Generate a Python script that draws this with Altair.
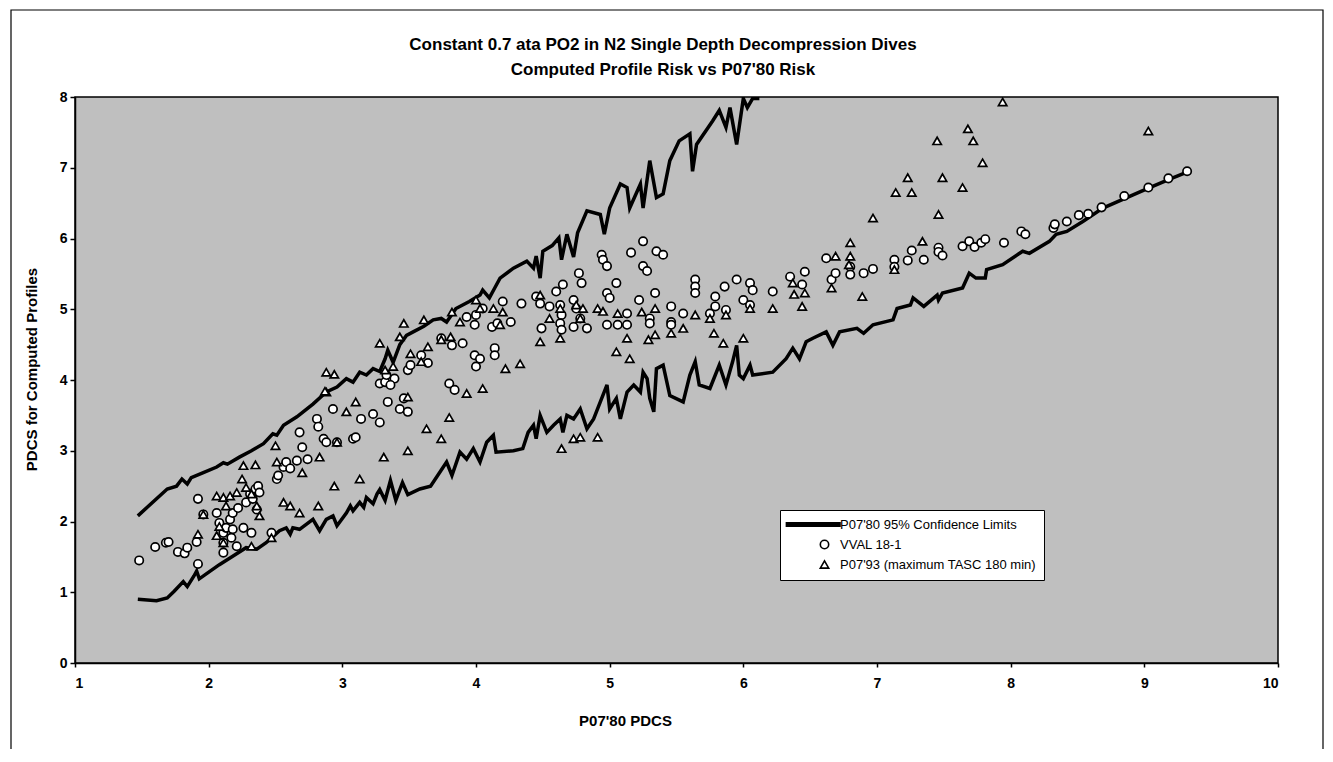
import altair as alt
import pandas as pd

TITLE_LINES = ["Constant 0.7 ata PO2 in N2 Single Depth Decompression Dives",
               "Computed Profile Risk vs P07'80 Risk"]
LINE_LABEL = "P07'80 95% Confidence Limits"
VVAL_LABEL = "VVAL 18-1"
P93_LABEL = "P07'93 (maximum TASC 180 min)"

x_ticks = [1, 2, 3, 4, 5, 6, 7, 8, 9, 10]
y_ticks = [0, 1, 2, 3, 4, 5, 6, 7, 8]

upper_x = [1.47, 1.69, 1.76, 1.80, 1.84, 1.87, 1.96, 2.06, 2.11, 2.14, 2.23, 2.32, 2.41, 2.48, 2.51,
           2.56, 2.66, 2.78, 2.88, 2.96, 3.03, 3.08, 3.13, 3.18, 3.23, 3.28, 3.32, 3.34, 3.38, 3.43,
           3.48, 3.53, 3.61, 3.68, 3.74, 3.78, 3.85, 3.95, 4.03, 4.05, 4.10, 4.14, 4.18, 4.28, 4.38,
           4.43, 4.45, 4.48, 4.50, 4.57, 4.62, 4.64, 4.68, 4.73, 4.76, 4.83, 4.93, 4.96, 5.00, 5.08,
           5.13, 5.15, 5.23, 5.25, 5.30, 5.35, 5.40, 5.45, 5.52, 5.60, 5.62, 5.65, 5.77, 5.82, 5.87,
           5.90, 5.95, 6.00, 6.03, 6.07, 6.12]
upper_y = [2.08, 2.46, 2.50, 2.60, 2.53, 2.62, 2.69, 2.77, 2.83, 2.81, 2.91, 3.00, 3.10, 3.24, 3.22,
           3.36, 3.48, 3.66, 3.83, 3.90, 4.02, 3.97, 4.11, 4.07, 4.16, 4.12, 4.30, 4.42, 4.25, 4.50,
           4.63, 4.68, 4.76, 4.85, 4.87, 4.82, 5.01, 5.11, 5.20, 5.27, 5.16, 5.30, 5.44, 5.58, 5.68,
           5.58, 5.75, 5.44, 5.82, 5.90, 6.01, 5.70, 6.06, 5.74, 6.08, 6.39, 6.34, 6.06, 6.43, 6.77,
           6.72, 6.43, 6.77, 6.43, 7.10, 6.58, 6.63, 7.10, 7.38, 7.48, 6.95, 7.33, 7.66, 7.81, 7.57,
           7.85, 7.33, 7.98, 7.85, 7.98, 7.98]

lower_x = [1.47, 1.61, 1.69, 1.74, 1.81, 1.84, 1.89, 1.91, 1.93, 1.99, 2.08, 2.18, 2.28, 2.36, 2.43,
           2.53, 2.58, 2.61, 2.63, 2.68, 2.73, 2.78, 2.83, 2.88, 2.93, 2.96, 3.03, 3.06, 3.08, 3.13,
           3.16, 3.18, 3.23, 3.26, 3.28, 3.32, 3.36, 3.40, 3.45, 3.49, 3.58, 3.66, 3.78, 3.82, 3.88,
           3.93, 3.98, 4.03, 4.08, 4.13, 4.15, 4.28, 4.35, 4.39, 4.43, 4.45, 4.48, 4.53, 4.58, 4.63,
           4.65, 4.68, 4.73, 4.78, 4.83, 4.88, 4.93, 4.98, 5.00, 5.05, 5.08, 5.13, 5.18, 5.23, 5.25,
           5.28, 5.30, 5.33, 5.35, 5.40, 5.45, 5.55, 5.60, 5.64, 5.67, 5.75, 5.82, 5.87, 5.92, 5.95,
           5.97, 6.00, 6.05, 6.07, 6.22, 6.32, 6.37, 6.42, 6.47, 6.52, 6.62, 6.67, 6.72, 6.85, 6.90,
           6.97, 7.12, 7.15, 7.25, 7.27, 7.35, 7.45, 7.46, 7.49, 7.64, 7.69, 7.74, 7.81, 7.82, 7.94,
           8.09, 8.14, 8.29, 8.34, 8.42, 8.54, 8.69, 8.92, 9.04, 9.19, 9.31]
lower_y = [0.90, 0.88, 0.92, 1.01, 1.15, 1.08, 1.23, 1.30, 1.19, 1.27, 1.39, 1.51, 1.63, 1.61, 1.70,
           1.87, 1.91, 1.82, 1.91, 1.89, 1.96, 2.03, 1.87, 2.03, 2.08, 1.94, 2.12, 2.22, 2.15, 2.27,
           2.20, 2.34, 2.25, 2.39, 2.45, 2.30, 2.58, 2.30, 2.55, 2.38, 2.46, 2.50, 2.84, 2.65, 2.98,
           2.88, 3.03, 2.84, 3.12, 3.22, 2.98, 3.00, 3.03, 3.26, 3.36, 3.17, 3.50, 3.26, 3.36, 3.45,
           3.26, 3.50, 3.45, 3.59, 3.31, 3.45, 3.69, 3.93, 3.59, 3.74, 3.45, 3.83, 3.93, 3.83, 4.11,
           4.02, 3.74, 3.55, 4.16, 4.21, 3.78, 3.69, 4.07, 4.26, 3.93, 3.88, 4.21, 3.93, 4.26, 4.49,
           4.07, 4.02, 4.21, 4.07, 4.11, 4.30, 4.45, 4.30, 4.54, 4.59, 4.68, 4.49, 4.68, 4.73, 4.66,
           4.78, 4.85, 5.01, 5.06, 5.16, 5.04, 5.20, 5.13, 5.23, 5.30, 5.51, 5.44, 5.44, 5.56, 5.63,
           5.82, 5.79, 5.96, 6.06, 6.10, 6.24, 6.43, 6.62, 6.72, 6.84, 6.93]

vval_x = [1.48, 1.60, 1.68, 1.70, 1.77, 1.82, 1.84, 1.91, 1.92, 1.92, 1.96, 2.06, 2.08, 2.11, 2.13,
          2.16, 2.18, 2.22, 2.28, 2.31, 2.35, 2.37, 2.38, 2.33, 2.36, 2.32, 2.26, 2.18, 2.17, 2.21,
          2.11, 2.11, 2.47, 2.51, 2.52, 2.56, 2.58, 2.61, 2.66, 2.68, 2.70, 2.74, 2.81, 2.82, 2.86,
          2.88, 2.96, 2.93, 3.08, 3.10, 3.14, 3.23, 3.28, 3.34, 3.43, 3.49, 3.46, 3.28, 3.32, 3.39,
          3.36, 3.33, 3.49, 3.51, 3.59, 3.64, 3.74, 3.82, 3.90, 3.80, 3.84, 3.93, 3.99, 3.99, 4.00,
          4.03, 4.14, 4.14, 4.00, 4.05, 4.12, 4.16, 4.20, 4.26, 4.34, 4.45, 4.48, 4.55, 4.63, 4.64,
          4.73, 4.75, 4.78, 4.83, 4.73, 4.63, 4.49, 4.64, 4.77, 4.79, 4.65, 4.60, 4.94, 4.95, 4.98,
          4.98, 5.00, 5.05, 5.16, 5.25, 5.35, 5.40, 5.25, 5.28, 5.22, 5.34, 5.46, 4.98, 5.06, 5.13,
          5.13, 5.30, 5.30, 5.46, 5.46, 5.55, 5.64, 5.64, 5.64, 5.75, 5.79, 5.79, 5.86, 5.87, 5.95,
          6.00, 6.05, 6.07, 6.05, 6.22, 6.35, 6.44, 6.46, 6.62, 6.66, 6.69, 6.80, 6.80, 6.90, 6.97,
          7.13, 7.13, 7.23, 7.26, 7.35, 7.46, 7.46, 7.49, 7.64, 7.69, 7.73, 7.78, 7.81, 7.95, 8.08,
          8.11, 8.32, 8.33, 8.42, 8.51, 8.58, 8.68, 8.85, 9.03, 9.18, 9.32]
vval_y = [1.45, 1.64, 1.70, 1.71, 1.57, 1.55, 1.63, 1.71, 2.32, 1.40, 2.10, 2.12, 1.98, 1.84, 1.91,
          2.03, 2.12, 2.19, 2.27, 2.39, 2.46, 2.50, 2.41, 2.32, 2.17, 1.84, 1.91, 1.89, 1.77, 1.65,
          1.56, 1.70, 1.84, 2.60, 2.65, 2.77, 2.84, 2.75, 2.86, 3.26, 3.05, 2.88, 3.45, 3.34, 3.17,
          3.12, 3.12, 3.59, 3.17, 3.19, 3.45, 3.52, 3.40, 3.69, 3.59, 3.55, 3.74, 3.95, 3.97, 4.02,
          3.93, 4.07, 4.14, 4.21, 4.35, 4.24, 4.59, 4.49, 4.52, 3.95, 3.86, 4.89, 4.78, 4.35, 4.19,
          4.30, 4.45, 4.35, 4.92, 5.01, 4.75, 4.80, 5.11, 4.82, 5.08, 5.18, 5.08, 5.04, 5.06, 4.92,
          5.13, 5.01, 4.87, 4.73, 4.75, 4.80, 4.73, 4.71, 5.51, 5.37, 5.35, 5.25, 5.77, 5.70, 5.61,
          5.23, 5.16, 5.37, 5.80, 5.96, 5.82, 5.77, 5.61, 5.54, 5.13, 5.23, 5.04, 4.78, 4.78, 4.94,
          4.78, 4.87, 4.80, 4.82, 4.78, 4.94, 5.42, 5.32, 5.23, 4.94, 5.04, 5.18, 5.32, 4.99, 5.42,
          5.13, 5.37, 5.27, 5.06, 5.25, 5.46, 5.35, 5.53, 5.72, 5.42, 5.51, 5.60, 5.49, 5.51, 5.57,
          5.70, 5.60, 5.69, 5.83, 5.70, 5.87, 5.81, 5.76, 5.89, 5.96, 5.88, 5.94, 5.99, 5.94, 6.10,
          6.06, 6.15, 6.20, 6.24, 6.33, 6.35, 6.44, 6.60, 6.72, 6.85, 6.95]

p93_x = [1.96, 1.92, 2.06, 2.11, 2.13, 2.16, 2.21, 2.25, 2.26, 2.35, 2.28, 2.32, 2.36, 2.38, 2.06,
         2.08, 2.11, 2.32, 2.47, 2.50, 2.51, 2.56, 2.61, 2.68, 2.70, 2.82, 2.83, 2.88, 2.96, 3.03,
         3.10, 3.13, 2.94, 3.31, 3.49, 3.49, 3.63, 2.88, 2.94, 2.87, 3.28, 3.46, 3.43, 3.61, 3.64,
         3.82, 4.00, 3.81, 3.93, 3.51, 3.59, 3.74, 3.88, 4.03, 4.13, 4.20, 4.18, 4.22, 4.33, 4.05,
         3.80, 3.74, 3.32, 3.38, 4.48, 4.48, 4.55, 4.63, 4.63, 4.75, 4.78, 4.80, 4.91, 4.95, 5.05,
         5.06, 5.13, 5.15, 5.24, 5.29, 5.34, 5.34, 5.46, 5.55, 5.64, 5.75, 5.78, 5.85, 5.87, 6.00,
         6.05, 6.22, 6.37, 6.44, 6.46, 6.38, 6.66, 6.69, 6.80, 6.80, 6.79, 6.89, 4.64, 4.73, 4.78,
         4.91, 6.97, 7.13, 7.34, 7.46, 7.14, 7.26, 7.64, 7.23, 7.49, 7.79, 7.45, 7.72, 7.68, 7.94,
         9.03]
p93_y = [2.10, 1.82, 2.36, 2.34, 2.22, 2.36, 2.41, 2.60, 2.79, 2.80, 2.48, 2.39, 2.22, 2.08, 1.80,
         1.93, 1.70, 1.65, 1.77, 3.07, 2.84, 2.27, 2.22, 2.12, 2.69, 2.22, 2.91, 3.83, 3.12, 3.55,
         3.69, 2.60, 2.50, 2.91, 3.00, 3.76, 3.31, 4.11, 4.08, 3.84, 4.52, 4.80, 4.61, 4.85, 4.47,
         4.96, 5.13, 4.61, 3.81, 4.37, 4.26, 4.57, 4.82, 5.01, 5.01, 4.96, 4.78, 4.16, 4.23, 3.88,
         3.47, 3.17, 4.14, 4.19, 5.20, 4.54, 4.87, 5.01, 4.59, 5.06, 4.87, 5.01, 5.01, 4.97, 4.40,
         4.94, 4.59, 4.30, 4.96, 4.57, 5.01, 4.64, 4.66, 4.73, 4.92, 4.87, 4.66, 4.52, 4.92, 4.59,
         5.01, 5.01, 5.37, 5.04, 5.23, 5.21, 5.30, 5.75, 5.94, 5.75, 5.63, 5.18, 3.03, 3.17, 3.19,
         3.19, 6.29, 5.56, 5.96, 6.34, 6.65, 6.65, 6.72, 6.86, 6.86, 7.07, 7.38, 7.38, 7.55, 7.93,
         7.52]

# tables for the library
lines = pd.DataFrame({
    "x": upper_x + lower_x,
    "y": upper_y + lower_y,
    "limit": ["upper"] * len(upper_x) + ["lower"] * len(lower_x),
    "order": list(range(len(upper_x))) + list(range(len(lower_x))),
})
points = pd.DataFrame({
    "x": vval_x + p93_x,
    "y": vval_y + p93_y,
    "series": [VVAL_LABEL] * len(vval_x) + [P93_LABEL] * len(p93_x),
})

FONT = "Liberation Sans"
W, H = 1203, 566
PAD_L, PAD_T, PAD_R, PAD_B = 67, 89, 47, 86

xscale = alt.Scale(domain=[1, 10], nice=False, zero=False)
yscale = alt.Scale(domain=[0, 8], nice=False, zero=False)

x_enc = alt.X("x:Q", scale=xscale,
              axis=alt.Axis(values=x_ticks, title="P07'80 PDCS", grid=False,
                            titleX=550, titleY=57, titleBaseline="middle",
                            labelPadding=9, tickSize=4))
y_enc = alt.Y("y:Q", scale=yscale,
              axis=alt.Axis(values=y_ticks, title="PDCS for Computed Profiles", grid=False,
                            titleX=-44, titleY=272, titleBaseline="middle",
                            labelPadding=3, tickSize=5))

LEGEND_LINE = "M-9.1,-0.43L3.7,-0.43L3.7,0.43L-9.1,0.43Z"
leg_domain = [LINE_LABEL, VVAL_LABEL, P93_LABEL]
legend = alt.Legend(title=None, orient="none", legendX=705, legendY=413,
                    labelFontSize=13, labelFont=FONT, labelColor="black",
                    fillColor="white", strokeColor="black", padding=8,
                    rowPadding=5, symbolOffset=30, labelOffset=9,
                    symbolStrokeColor="black", symbolStrokeWidth=1.6,
                    symbolSize=70, labelLimit=400)

frame = alt.Chart(pd.DataFrame({"f": [0]})).mark_rect(
    stroke="black", strokeWidth=1.2, fillOpacity=0
).encode(
    x=alt.value(-64), x2=alt.value(1248), y=alt.value(-87), y2=alt.value(655)
)

title1 = alt.Chart(pd.DataFrame({"t": [TITLE_LINES[0]]})).mark_text(
    font=FONT, fontSize=17, fontWeight="bold", color="black", baseline="middle", align="center"
).encode(text="t:N", x=alt.value(588), y=alt.value(-52))
title2 = alt.Chart(pd.DataFrame({"t": [TITLE_LINES[1]]})).mark_text(
    font=FONT, fontSize=17, fontWeight="bold", color="black", baseline="middle", align="center"
).encode(text="t:N", x=alt.value(588), y=alt.value(-27))

line_layer = alt.Chart(lines).mark_line(
    color="black", strokeWidth=3.5, clip=True
).encode(
    x=x_enc, y=y_enc, detail="limit:N", order="order:Q"
)

point_layer = alt.Chart(points).mark_point(
    filled=False, strokeWidth=1.7, size=70, opacity=1, fillOpacity=1, clip=True
).encode(
    x=x_enc, y=y_enc,
    shape=alt.Shape("series:N", scale=alt.Scale(domain=leg_domain,
                    range=[LEGEND_LINE, "circle", "triangle-up"]), legend=legend),
    fill=alt.Fill("series:N", scale=alt.Scale(domain=leg_domain,
                  range=["black", "white", "white"]), legend=legend),
    stroke=alt.Stroke("series:N", scale=alt.Scale(domain=leg_domain,
                      range=["black", "black", "black"]), legend=legend),
)

chart = alt.layer(frame, title1, title2, line_layer, point_layer).properties(
    width=W, height=H,
    autosize=alt.AutoSizeParams(type="none"),
    padding={"left": PAD_L, "top": PAD_T, "right": PAD_R, "bottom": PAD_B},
).configure(
    background="white",
).configure_view(
    fill="#bfbfbf", stroke="black", strokeWidth=1.5,
).configure_axis(
    domainColor="black", domainWidth=1.5, tickColor="black", tickWidth=1.5,
    labelFont=FONT, labelFontSize=14, labelFontWeight="bold", labelColor="black",
    titleFont=FONT, titleFontSize=15, titleFontWeight="bold", titleColor="black",
)

chart.save("out.html", embed_options={"renderer": "svg", "actions": False})
